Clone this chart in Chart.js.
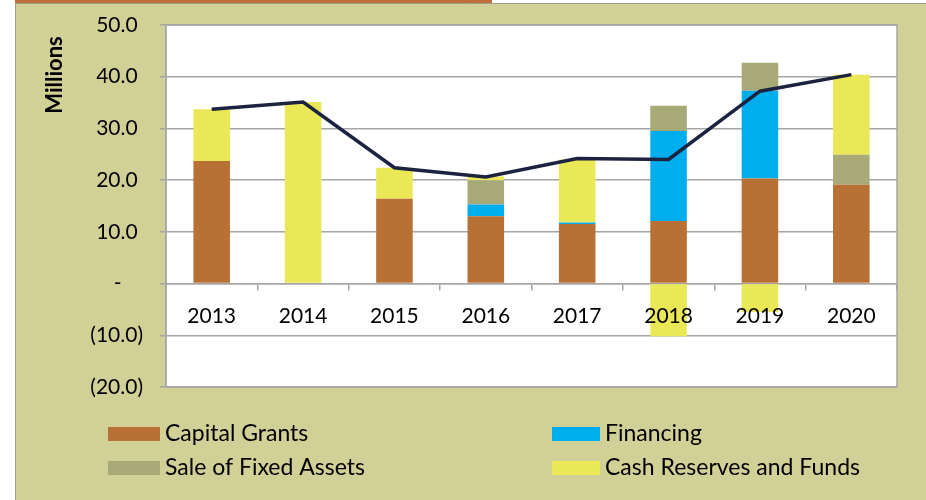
<!DOCTYPE html>
<html>
<head>
<meta charset="utf-8">
<script src="https://cdn.jsdelivr.net/npm/chart.js@4/dist/chart.umd.min.js"></script>
<style>
 html, body { margin: 0; padding: 0; background: #ffffff; }
 #wrap { width: 926px; height: 500px; position: relative; }
</style>
</head>
<body>
<div id="wrap"><canvas id="fundingChart" width="926" height="500"></canvas></div>
<script>
var years = ["2013", "2014", "2015", "2016", "2017", "2018", "2019", "2020"];
var capitalGrants = [23.7, 0, 16.4, 13.0, 11.5, 12.1, 20.3, 19.1];
var financing = [0, 0, 0, 2.3, 0.3, 17.4, 17.0, 0];
var saleOfFixedAssets = [0, 0, 0, 4.7, 0, 4.9, 5.4, 5.8];
var cashReserves = [10.0, 35.1, 6.0, 0.7, 12.2, -10.2, -5.5, 15.5];
var totalFunding = [33.7, 35.1, 22.4, 20.6, 24.2, 24.0, 37.2, 40.4];

var fontFamily = "Lato, 'Open Sans', sans-serif";
var gridColor = "#a6a6a6";

// frame, plot background, axis title and the two column legend
var framePlugin = {
 id: "frame",
 beforeDraw: function (chart) {
  var ctx = chart.ctx;
  var area = chart.chartArea;
  ctx.save();
  ctx.fillStyle = "#ffffff";
  ctx.fillRect(0, 0, chart.width, chart.height);
  ctx.fillStyle = "#d1d096";
  ctx.fillRect(15, 3, chart.width - 15, chart.height - 3);
  ctx.fillStyle = "#bf7039";
  ctx.fillRect(15, 0, 477, 3);
  ctx.strokeStyle = "#9e9e8a";
  ctx.lineWidth = 1;
  ctx.beginPath();
  ctx.moveTo(15.5, chart.height);
  ctx.lineTo(15.5, 3.5);
  ctx.lineTo(chart.width, 3.5);
  ctx.stroke();
  ctx.fillStyle = "#ffffff";
  ctx.fillRect(area.left, area.top, area.right - area.left, area.bottom - area.top);
  ctx.restore();
 },
 afterDraw: function (chart) {
  var ctx = chart.ctx;
  var area = chart.chartArea;
  ctx.save();
  ctx.strokeStyle = gridColor;
  ctx.lineWidth = 1.5;
  ctx.strokeRect(area.left, area.top, area.right - area.left, area.bottom - area.top);

  ctx.fillStyle = "#000000";
  ctx.font = "bold 22px " + fontFamily;
  ctx.translate(55, 75);
  ctx.rotate(-Math.PI / 2);
  ctx.textAlign = "center";
  ctx.textBaseline = "middle";
  ctx.fillText("Millions", 0, 0);
  ctx.restore();

  var items = [
   { idx: 0, x: 108, y: 434, w: 52 },
   { idx: 1, x: 552, y: 434, w: 48 },
   { idx: 2, x: 108, y: 468, w: 52 },
   { idx: 3, x: 552, y: 468, w: 48 },
  ];
  ctx.save();
  ctx.font = "23px " + fontFamily;
  ctx.textBaseline = "middle";
  ctx.textAlign = "left";
  items.forEach(function (it) {
   var ds = chart.data.datasets[it.idx];
   ctx.fillStyle = ds.backgroundColor;
   ctx.fillRect(it.x, it.y - 7, it.w, 14);
   ctx.fillStyle = "#000000";
   ctx.fillText(ds.label, it.x + it.w + 5, it.y);
  });
  ctx.restore();
 },
};

function accounting(value) {
 if (value === 0) return "-    ";
 if (value < 0) return "(" + Math.abs(value).toFixed(1) + ")";
 return value.toFixed(1) + " ";
}

new Chart(document.getElementById("fundingChart"), {
 data: {
  labels: years,
  datasets: [
   { type: "bar", label: "Capital Grants", data: capitalGrants, backgroundColor: "#b97035", stack: "bars", order: 1 },
   { type: "bar", label: "Financing", data: financing, backgroundColor: "#00aeee", stack: "bars", order: 1 },
   { type: "bar", label: "Sale of Fixed Assets", data: saleOfFixedAssets, backgroundColor: "#a7a977", stack: "bars", order: 1 },
   { type: "bar", label: "Cash Reserves and Funds", data: cashReserves, backgroundColor: "#ebe857", stack: "bars", order: 1 },
   {
    type: "line",
    label: "Total",
    data: totalFunding,
    borderColor: "#1b2341",
    borderWidth: 3.5,
    pointRadius: 0,
    tension: 0,
    stack: "total",
    order: 0,
   },
  ],
 },
 options: {
  responsive: false,
  animation: false,
  layout: { padding: { top: 25, right: 29, bottom: 113, left: 0 } },
  datasets: { bar: { barPercentage: 0.4, categoryPercentage: 1.0 } },
  plugins: { legend: { display: false }, tooltip: { enabled: false } },
  scales: {
   x: {
    stacked: true,
    position: { y: 0 },
    grid: { offset: true, drawOnChartArea: false, drawTicks: true, tickLength: 6, color: gridColor, lineWidth: 1.5 },
    border: { display: true, color: gridColor, width: 1.5 },
    ticks: { z: 1, color: "#000000", font: { family: fontFamily, size: 21, lineHeight: 1 }, padding: 16 },
   },
   y: {
    stacked: true,
    min: -20,
    max: 50,
    afterFit: function (scale) {
     scale.width = 166;
    },
    grid: { color: gridColor, lineWidth: 1.5, tickLength: 6 },
    border: { display: true, color: gridColor, width: 1.5 },
    ticks: { stepSize: 10, color: "#000000", font: { family: fontFamily, size: 21, lineHeight: 0.5 }, padding: 17, callback: accounting },
   },
  },
 },
 plugins: [framePlugin],
});
</script>
</body>
</html>
